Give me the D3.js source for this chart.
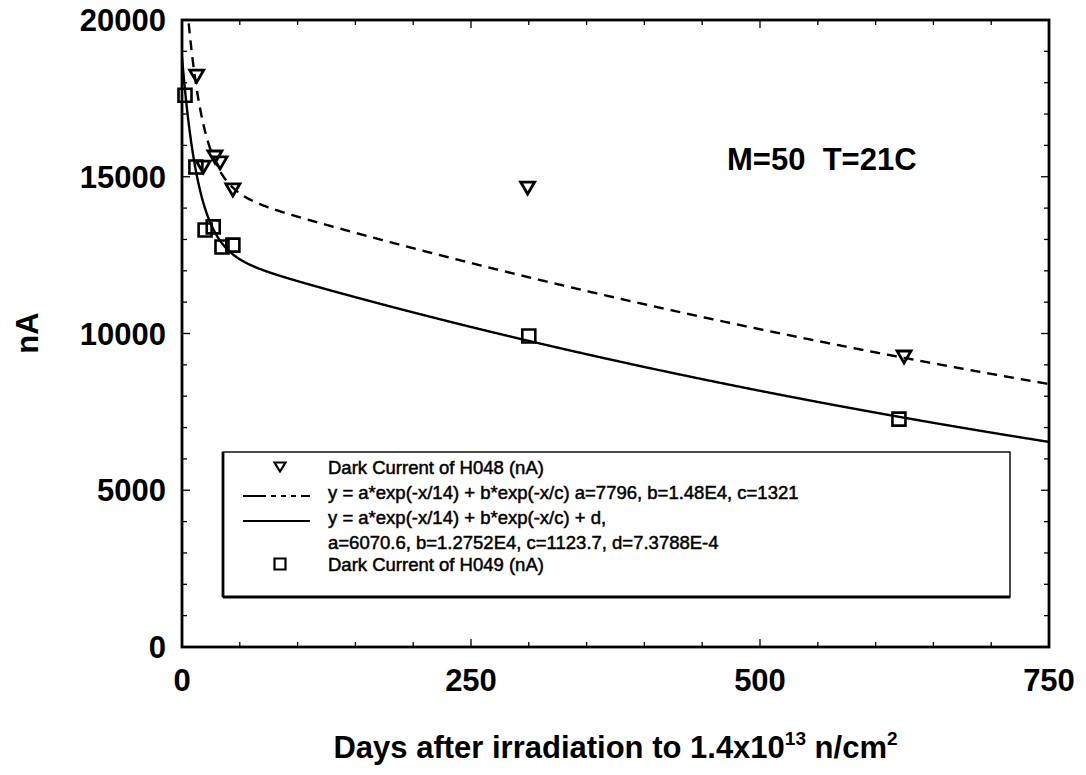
<!DOCTYPE html>
<html>
<head>
<meta charset="utf-8">
<script src="https://cdn.jsdelivr.net/npm/d3@7"></script>
<style>
  html, body { margin: 0; padding: 0; background: #fff; }
  svg { display: block; }
  text { font-family: "Liberation Sans", Arial, sans-serif; fill: #000; white-space: pre; }
</style>
</head>
<body>
<svg id="chart" width="1086" height="775"></svg>
<script>
// Dark current measurements (days after irradiation, nA)
const h048Days    = [12.7, 18.4, 28.5, 32.9, 44, 299, 624.6];
const h048Current = [18210, 15310, 15630, 15440, 14580, 14640, 9250];
const h049Days    = [2.6, 12, 20, 27, 34.6, 44, 300, 620.2];
const h049Current = [17600, 15310, 13300, 13400, 12760, 12820, 9920, 7270];

// Fit parameters [a, b, c, d] for y = a*exp(-x/14) + b*exp(-x/c) + d
const fitH048 = [7796, 1.48e4, 1321, 0];
const fitH049 = [6070.6, 1.2752e4, 1123.7, 7.3788e-4];

const xTicks = [0, 250, 500, 750];
const yTicks = [0, 5000, 10000, 15000, 20000];

const legendLabels = [
  "Dark Current of H048 (nA)",
  "y = a*exp(-x/14) + b*exp(-x/c) a=7796, b=1.48E4, c=1321",
  "y = a*exp(-x/14) + b*exp(-x/c) + d,",
  "a=6070.6, b=1.2752E4, c=1123.7, d=7.3788E-4",
  "Dark Current of H049 (nA)"
];

const svg = d3.select("#chart");
const m = { left: 182, right: 1049, top: 20, bottom: 647 };

const x = d3.scaleLinear().domain([0, 750]).range([m.left, m.right]);
const y = d3.scaleLinear().domain([0, 20000]).range([m.bottom, m.top]);

svg.append("defs").append("clipPath").attr("id", "plotClip")
  .append("rect")
  .attr("x", m.left).attr("y", m.top)
  .attr("width", m.right - m.left).attr("height", m.bottom - m.top);

// Inward minor/major ticks on all four sides
const g = svg.append("g").attr("stroke", "#000").attr("stroke-width", 1.3);
d3.range(0, 751, 50).forEach(v => {
  const len = v % 250 === 0 ? 8 : 5;
  g.append("line").attr("x1", x(v)).attr("x2", x(v)).attr("y1", m.bottom).attr("y2", m.bottom - len);
  g.append("line").attr("x1", x(v)).attr("x2", x(v)).attr("y1", m.top).attr("y2", m.top + len);
});
d3.range(0, 20001, 1000).forEach(v => {
  const len = v % 5000 === 0 ? 8 : 5;
  g.append("line").attr("y1", y(v)).attr("y2", y(v)).attr("x1", m.left).attr("x2", m.left + len);
  g.append("line").attr("y1", y(v)).attr("y2", y(v)).attr("x1", m.right).attr("x2", m.right - len);
});

// Fit curves
function fitFn(p) {
  return xv => p[0] * Math.exp(-xv / 14) + p[1] * Math.exp(-xv / p[2]) + p[3];
}
const xs = d3.range(0, 750.01, 0.5);
const line = d3.line().x(d => x(d[0])).y(d => y(d[1]));
const plot = svg.append("g").attr("clip-path", "url(#plotClip)");

plot.append("path")
  .datum(xs.map(v => [v, fitFn(fitH048)(v)]))
  .attr("d", line).attr("fill", "none").attr("stroke", "#000")
  .attr("stroke-width", 2.4).attr("stroke-dasharray", "10,7");

plot.append("path")
  .datum(xs.map(v => [v, fitFn(fitH049)(v)]))
  .attr("d", line).attr("fill", "none").attr("stroke", "#000")
  .attr("stroke-width", 2.4);

// Marker shapes
function triPath(w, h) {
  return `M${-w / 2},${-h / 2}L${w / 2},${-h / 2}L0,${h / 2}Z`;
}
function sqPath(s) {
  return `M${-s / 2},${-s / 2}h${s}v${s}h${-s}Z`;
}

svg.append("g").selectAll("path")
  .data(h048Days.map((d, i) => [d, h048Current[i]]))
  .join("path")
  .attr("transform", d => `translate(${x(d[0])},${y(d[1])})`)
  .attr("d", triPath(14, 12))
  .attr("fill", "none").attr("stroke", "#000").attr("stroke-width", 2.8)
  .attr("stroke-linejoin", "miter");

svg.append("g").selectAll("path")
  .data(h049Days.map((d, i) => [d, h049Current[i]]))
  .join("path")
  .attr("transform", d => `translate(${x(d[0])},${y(d[1])})`)
  .attr("d", sqPath(13))
  .attr("fill", "none").attr("stroke", "#000").attr("stroke-width", 2.6);

// Frame
svg.append("rect")
  .attr("x", m.left).attr("y", m.top)
  .attr("width", m.right - m.left).attr("height", m.bottom - m.top)
  .attr("fill", "none").attr("stroke", "#000").attr("stroke-width", 2.8);

// Tick labels
svg.append("g").selectAll("text").data(xTicks).join("text")
  .attr("x", d => x(d)).attr("y", 691)
  .attr("text-anchor", "middle").attr("font-size", 31).attr("font-weight", "bold")
  .text(d => d);

svg.append("g").selectAll("text").data(yTicks).join("text")
  .attr("x", 166).attr("y", d => y(d) + 11)
  .attr("text-anchor", "end").attr("font-size", 31).attr("font-weight", "bold")
  .text(d => d);

// Axis titles
svg.append("text")
  .attr("transform", "translate(38,333) rotate(-90)")
  .attr("text-anchor", "middle").attr("font-size", 31).attr("font-weight", "bold")
  .text("nA");

const xt = svg.append("text")
  .attr("x", (m.left + m.right) / 2).attr("y", 758)
  .attr("text-anchor", "middle").attr("font-size", 31).attr("font-weight", "bold");
xt.append("tspan").text("Days after irradiation to 1.4x10");
xt.append("tspan").attr("font-size", 19).attr("dy", -13).text("13");
xt.append("tspan").attr("dy", 13).text(" n/cm");
xt.append("tspan").attr("font-size", 19).attr("dy", -13).text("2");

// Annotation
svg.append("text")
  .attr("x", 727).attr("y", 170)
  .attr("font-size", 31).attr("font-weight", "bold")
  .text("M=50  T=21C");

// Legend
const lg = svg.append("g");
const lb = { x0: 223, y0: 452, x1: 1010, y1: 597 };
lg.append("rect")
  .attr("x", lb.x0).attr("y", lb.y0)
  .attr("width", lb.x1 - lb.x0).attr("height", lb.y1 - lb.y0)
  .attr("fill", "#fff").attr("stroke", "#000").attr("stroke-width", 1.4);
lg.append("line").attr("x1", lb.x0).attr("x2", lb.x0).attr("y1", lb.y0).attr("y2", lb.y1)
  .attr("stroke", "#000").attr("stroke-width", 2.8);
lg.append("line").attr("x1", lb.x0).attr("x2", lb.x1).attr("y1", lb.y1).attr("y2", lb.y1)
  .attr("stroke", "#000").attr("stroke-width", 2.8);

const rowY = [474, 499, 524, 549, 571];
const textX = 328;
legendLabels.forEach((t, i) => {
  lg.append("text").attr("x", textX).attr("y", rowY[i])
    .attr("font-size", 18.5)
    .attr("stroke", "#000").attr("stroke-width", 0.5)
    .text(t);
});
lg.append("path").attr("transform", "translate(280,467)")
  .attr("d", triPath(11, 9)).attr("fill", "none").attr("stroke", "#000").attr("stroke-width", 2.2);
lg.append("line").attr("x1", 243).attr("x2", 310).attr("y1", 496).attr("y2", 496)
  .attr("stroke", "#000").attr("stroke-width", 1.8).attr("stroke-dasharray", "23,5,5,5,5,5,5,5");
lg.append("line").attr("x1", 243).attr("x2", 310).attr("y1", 521).attr("y2", 521)
  .attr("stroke", "#000").attr("stroke-width", 1.8);
lg.append("path").attr("transform", "translate(280,564)")
  .attr("d", sqPath(11)).attr("fill", "none").attr("stroke", "#000").attr("stroke-width", 2.2);
</script>
</body>
</html>
